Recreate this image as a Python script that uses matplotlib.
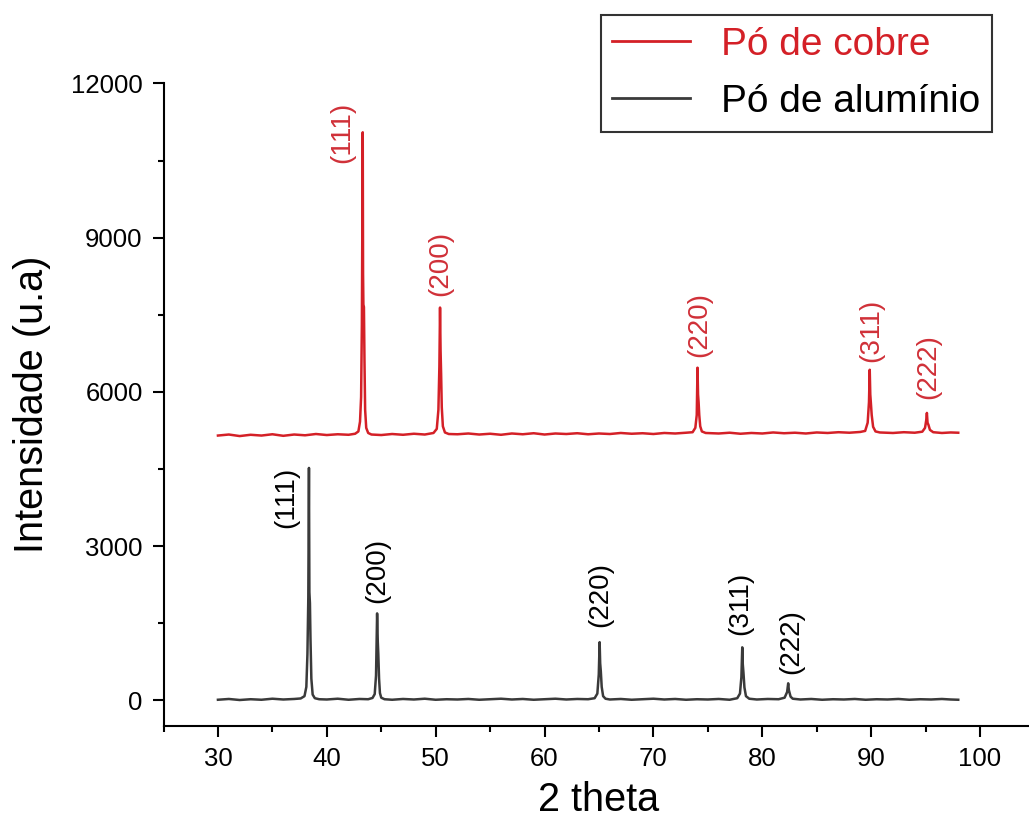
import matplotlib
matplotlib.use("Agg")
import matplotlib.pyplot as plt
from matplotlib.ticker import MultipleLocator

plt.rcParams["font.family"] = ["Liberation Sans", "DejaVu Sans"]

# Copper powder pattern (2 theta in degrees, counts)
cu_2theta = [30.0, 31.0, 32.0, 33.0, 34.0, 35.0, 36.0, 37.0, 38.0, 39.0, 40.0, 41.0, 42.0,
             42.6, 42.9, 43.05, 43.15, 43.22, 43.27, 43.30, 43.33, 43.36, 43.41, 43.46, 43.52,
             43.62, 43.8, 44.1,
             45.0, 46.0, 47.0, 48.0, 49.0, 49.8, 50.1, 50.25, 50.34, 50.40, 50.45, 50.50,
             50.56, 50.66, 50.85, 51.2,
             52.0, 53.0, 54.0, 55.0, 56.0, 57.0, 58.0, 59.0, 60.0, 61.0, 62.0, 63.0, 64.0,
             65.0, 66.0, 67.0, 68.0, 69.0, 70.0, 71.0, 72.0, 73.0, 73.6, 73.85, 73.98,
             74.05, 74.10, 74.15, 74.21, 74.3, 74.45, 74.8,
             76.0, 77.0, 78.0, 79.0, 80.0, 81.0, 82.0, 83.0, 84.0, 85.0, 86.0, 87.0, 88.0,
             89.0, 89.45, 89.68, 89.80, 89.87, 89.92, 89.97, 90.05, 90.18, 90.4, 90.8,
             92.0, 93.0, 94.0, 94.7, 94.95, 95.06, 95.12, 95.18, 95.26, 95.4, 95.7,
             96.5, 97.3, 98.0]
cu_counts = [5150, 5170, 5140, 5165, 5150, 5175, 5145, 5170, 5155, 5180, 5160, 5175, 5165,
             5185, 5230, 5420, 5900, 7300, 9600, 11050, 8300, 7700, 7650, 6600, 5650,
             5300, 5200, 5170,
             5160, 5180, 5165, 5185, 5170, 5200, 5280, 5650, 6500, 7640, 6800, 6350,
             5700, 5330, 5210, 5180,
             5175, 5190, 5170, 5185, 5165, 5190, 5175, 5195, 5170, 5190, 5180, 5195, 5175,
             5190, 5180, 5200, 5185, 5195, 5180, 5200, 5190, 5205, 5215, 5300, 5550,
             6470, 5950, 5800, 5550, 5330, 5230, 5200,
             5190, 5205, 5185, 5200, 5190, 5210, 5195, 5205, 5190, 5210, 5200, 5215, 5205,
             5220, 5240, 5400, 5800, 6430, 5950, 5800, 5550, 5320, 5230, 5210,
             5200, 5215, 5205, 5225, 5300, 5450, 5590, 5400, 5360, 5260, 5215,
             5200, 5210, 5205]

# Aluminium powder pattern
al_2theta = [30.0, 31.0, 32.0, 33.0, 34.0, 35.0, 36.0, 37.0, 37.6, 37.95, 38.12, 38.22,
             38.30, 38.36, 38.40, 38.45, 38.50, 38.58, 38.7, 38.9, 39.3,
             40.0, 41.0, 42.0, 43.0, 43.8, 44.2, 44.4, 44.52, 44.62, 44.68, 44.73, 44.8,
             44.88, 45.0, 45.3,
             46.0, 47.0, 48.0, 49.0, 50.0, 51.0, 52.0, 53.0, 54.0, 55.0, 56.0, 57.0, 58.0,
             59.0, 60.0, 61.0, 62.0, 63.0, 64.0, 64.6, 64.85, 64.98, 65.06, 65.11, 65.17,
             65.25, 65.38, 65.6,
             66.0, 67.0, 68.0, 69.0, 70.0, 71.0, 72.0, 73.0, 74.0, 75.0, 76.0, 77.0, 77.7,
             77.95, 78.08, 78.16, 78.21, 78.27, 78.36, 78.5, 78.8,
             79.5, 80.5, 81.5, 82.05, 82.28, 82.38, 82.44, 82.5, 82.6, 82.8,
             83.5, 84.5, 85.5, 86.5, 87.5, 88.5, 89.5, 90.5, 91.5, 92.5, 93.5, 94.5, 95.5,
             96.5, 97.3, 98.0]
al_counts = [10, 25, 5, 20, 10, 30, 15, 25, 35, 80, 260, 900,
             2000, 4520, 2100, 1890, 1200, 420, 110, 40, 20,
             15, 30, 10, 25, 20, 45, 120, 480, 1690, 1150, 900, 420,
             140, 50, 20,
             10, 25, 15, 30, 10, 20, 15, 25, 10, 20, 30, 15, 25,
             10, 20, 30, 15, 25, 20, 40, 130, 500, 1130, 720, 560,
             260, 80, 30,
             15, 25, 10, 20, 30, 15, 25, 10, 20, 15, 25, 10, 40,
             130, 450, 1030, 700, 540, 250, 80, 30,
             15, 25, 20, 50, 160, 330, 200, 150, 70, 30,
             15, 25, 10, 20, 15, 25, 10, 20, 15, 25, 10, 20, 15,
             25, 15, 10]

# Miller-index annotations: (label, 2 theta, intensity)
cu_hkl = ["(111)", "(200)", "(220)", "(311)", "(222)"]
cu_hkl_x = [41.4, 50.45, 74.25, 90.05, 95.2]
cu_hkl_y = [10450, 7860, 6680, 6590, 5860]
al_hkl = ["(111)", "(200)", "(220)", "(311)", "(222)"]
al_hkl_x = [36.3, 44.65, 65.15, 78.0, 82.7]
al_hkl_y = [3350, 1890, 1430, 1270, 520]

cu_color = "#d42027"
al_color = "#3a3a3a"

fig = plt.figure(figsize=(10.29, 8.19), dpi=100)
ax = fig.add_axes([0.1589, 0.1136, 0.8464, 0.7845])

ax.plot(cu_2theta, cu_counts, color=cu_color, lw=1.8, label="Pó de cobre")
ax.plot(al_2theta, al_counts, color=al_color, lw=1.8, label="Pó de alumínio")

for t, x, y in zip(cu_hkl, cu_hkl_x, cu_hkl_y):
    ax.text(x, y, t, rotation=90, ha="center", va="bottom", fontsize=20, color="#d03038")
for t, x, y in zip(al_hkl, al_hkl_x, al_hkl_y):
    ax.text(x, y, t, rotation=90, ha="center", va="bottom", fontsize=20, color="black")

ax.set_xlim(25, 105)
ax.set_ylim(-500, 12000)
ax.xaxis.set_major_locator(MultipleLocator(10))
ax.xaxis.set_minor_locator(MultipleLocator(5))
ax.yaxis.set_major_locator(MultipleLocator(3000))
ax.yaxis.set_minor_locator(MultipleLocator(1500))

for side in ("top", "right"):
    ax.spines[side].set_visible(False)
for side in ("left", "bottom"):
    ax.spines[side].set_linewidth(1.5)

ax.tick_params(which="major", direction="out", length=8, width=1.5, labelsize=18.5)
ax.tick_params(which="minor", direction="out", length=4, width=1.5)
ax.tick_params(axis="x", which="major", pad=7)
ax.tick_params(axis="y", which="major", pad=7)

ax.set_xlabel("2 theta", fontsize=28.5, labelpad=7)
ax.set_ylabel("Intensidade (u.a)", fontsize=28.5, labelpad=14)

leg = ax.legend(loc="upper left", bbox_to_anchor=(600.7 / 1029, 1 - 15 / 819),
                bbox_transform=fig.transFigure, fontsize=28, frameon=True,
                fancybox=False, edgecolor="black", borderpad=0.3, borderaxespad=0,
                handlelength=2.0, handletextpad=0.8, labelspacing=0.55)
leg.get_frame().set_linewidth(1.5)
leg.get_texts()[0].set_color(cu_color)
leg.get_texts()[1].set_color("black")
for line in leg.get_lines():
    line.set_linewidth(2.0)

fig.savefig("out.png", dpi=100)
